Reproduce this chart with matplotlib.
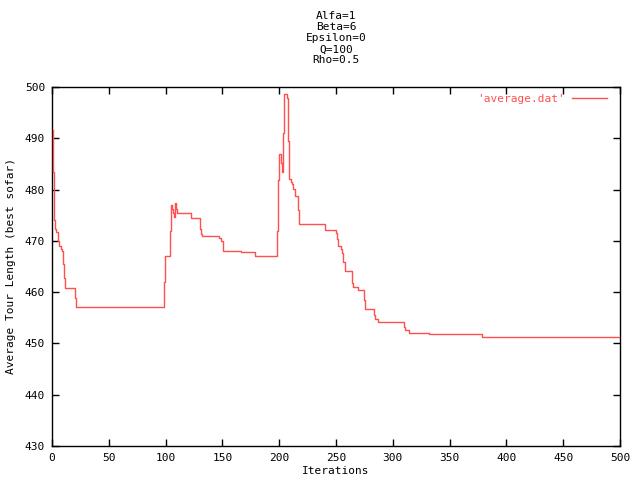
import matplotlib
matplotlib.use("Agg")
import matplotlib.pyplot as plt

# === DATA (step levels: value holds from iteration until next) ===
ITERATIONS = [0.8, 1.1, 1.6, 2.4, 3.5, 5.5, 6.4, 7.6, 8.5, 9.7, 10.9, 11.7, 20.5, 21.4,
              98.9, 99.7, 103.5, 104.4, 105.9, 106.8, 107.7, 108.6, 109.2, 109.7,
              122.1, 130.3, 131.2, 132.3, 147.3, 148.5, 150.8, 166.1, 178.4, 179.0,
              198.3, 199.2, 200.1, 201.8, 202.7, 203.6, 204.5, 207.1, 208.0, 208.9,
              210.7, 211.6, 212.5, 213.7, 216.8, 217.7, 240.0, 249.7, 250.6, 251.8,
              254.7, 255.6, 256.5, 257.9, 263.8, 264.5, 265.4, 269.1, 274.4, 275.3,
              283.2, 284.1, 286.7, 310.1, 311.0, 314.0, 332.1, 378.2, 500]
AVERAGE = [491.6, 483.5, 474.1, 472.3, 471.7, 470.0, 468.9, 468.4, 468.1, 465.5, 462.8, 460.8, 458.8, 457.05,
           462.0, 467.05, 471.9, 476.9, 476.2, 475.4, 474.7, 477.3, 476.3, 475.4,
           474.4, 472.25, 471.3, 470.95, 470.5, 470.0, 468.0, 467.8, 467.5, 467.05,
           471.9, 481.9, 486.9, 485.25, 483.5, 491.1, 498.6, 497.8, 489.5, 482.0,
           481.4, 481.0, 480.2, 478.7, 476.0, 473.2, 472.1, 471.5, 470.4, 469.06,
           468.4, 467.6, 465.95, 464.1, 463.5, 461.7, 460.95, 460.4, 458.5, 456.7,
           455.5, 454.7, 454.1, 453.3, 452.6, 452.0, 451.8, 451.2, 451.2]

TITLE_LINES = ["Alfa=1", "Beta=6", "Epsilon=0", "Q=100", "Rho=0.5"]
X_TICKS = list(range(0, 501, 50))
Y_TICKS = list(range(430, 501, 10))

RED = "#ff5050"
FS = 8

plt.rcParams["font.family"] = "DejaVu Sans Mono"
plt.rcParams["font.size"] = FS

fig = plt.figure(figsize=(6.4, 4.8), dpi=100)
ax = fig.add_axes([52 / 640, 34 / 480, 568 / 640, 359 / 480])

ax.step(ITERATIONS, AVERAGE, where="post", color=RED, linewidth=1.0,
        label="'average.dat'", zorder=3)

ax.set_xlim(0, 500)
ax.set_ylim(430, 500)
ax.set_xticks(X_TICKS)
ax.set_yticks(Y_TICKS)
ax.tick_params(direction="in", length=5, width=1, top=True, right=True, pad=5,
               labelsize=FS, colors="black")
for s in ax.spines.values():
    s.set_linewidth(1)

ax.set_xlabel("Iterations", fontsize=FS, labelpad=2)
ax.set_ylabel("Average Tour Length (best sofar)", fontsize=FS, labelpad=6)
fig.text(336 / 640, 1 - 11 / 480, "\n".join(TITLE_LINES), ha="center", va="top",
         fontsize=FS, linespacing=1.14)

leg = ax.legend(loc="upper right", bbox_to_anchor=(1 - 11 / 568, 1 - 5 / 359),
                frameon=False, markerfirst=False, handlelength=3.1,
                fontsize=FS, borderaxespad=0, borderpad=0.2, handletextpad=0.7)
for t in leg.get_texts():
    t.set_color(RED)

fig.savefig("out.png", dpi=100)
